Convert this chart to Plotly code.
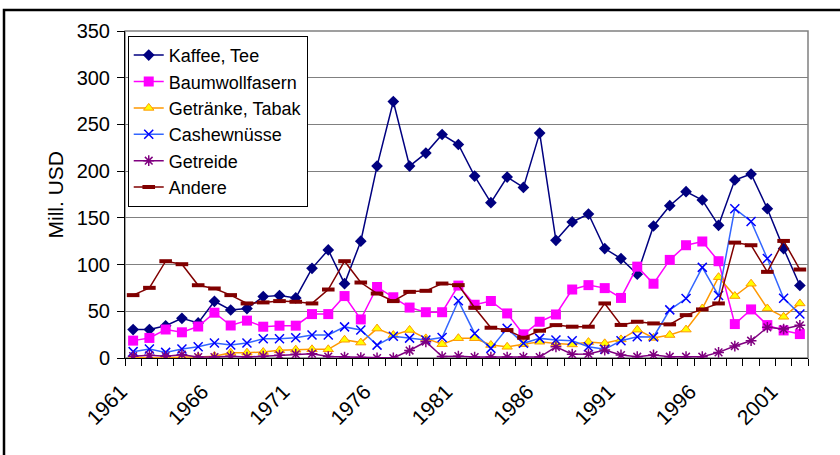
import plotly.graph_objects as go

years = list(range(1961, 2003))
label_years = [1961, 1966, 1971, 1976, 1981, 1986, 1991, 1996, 2001]

kaffee = [30.4, 30.4, 34.5, 42.5, 37.5, 60.7, 51.4, 52.9, 65.7, 66.8,
          64.3, 96, 115.7, 79.6, 125, 205.4, 274.5, 205.4, 219.3, 239.2,
          228.5, 194.7, 166.3, 193.7, 182.6, 240.7, 126, 145.6, 154.1, 117.1,
          106.4, 89.7, 141.3, 163, 178, 169.1, 142, 190.5, 196.9, 159.8,
          117.1, 77.6]
baumwolle = [18.6, 21.5, 30.5, 27.5, 33.7, 48.5, 34.8, 40, 33.5, 34.6,
             34.6, 47, 47, 66.3, 41.3, 76, 65, 54, 49, 49,
             77.5, 57, 61, 47.7, 25.3, 38.8, 46.6, 73.3, 78, 74.8,
             64.3, 97.8, 79.5, 105, 120.7, 124.7, 103.6, 36.3, 52, 35.2,
             29.5, 25.6]
getraenke = [0.5, 0, 0, 1, 1, 2, 5.7, 5.7, 6.4, 8.2,
             8.9, 9.3, 9.3, 19.5, 16.5, 31.5, 24.5, 30, 21, 14.8,
             21.2, 21.2, 13.9, 12, 14.8, 17.4, 15.5, 14.5, 17, 15.7,
             19.9, 30.3, 21.5, 24.6, 30.4, 53, 86.5, 66.3, 79.5, 53,
             44.1, 58.4]
cashew = [6.8, 9.6, 6, 9.6, 12.1, 16, 13.9, 16, 20.6, 20.6,
          21.7, 24.6, 24.6, 33.3, 30, 13.8, 23.3, 21.3, 19.2, 22,
          61.2, 26.3, 10.3, 31.7, 15.7, 21, 19.2, 18.5, 12.1, 9.3,
          18.5, 22.8, 22.5, 51.5, 63.7, 97, 66.8, 159.8, 146.2, 106.4,
          64, 47]
getreide = [2, 3, 2, 3.5, 1, 1, 2, 1, 2, 3,
            4, 4.5, 1.5, 1, 0.5, 0, 0, 8, 17.4, 1.5,
            2, 1, 1, 1, 1, 1, 12, 4, 4.3, 8.5,
            3.2, 1.4, 3.2, 1.4, 1.4, 1.4, 6, 12.8, 18.5, 32.8,
            31, 35]
andere = [67.3, 75.1, 103.6, 100.4, 77.9, 74.4, 67.3, 58.4, 59.5, 60.9,
          60.2, 58.4, 73.3, 103.6, 80.8, 69, 60.9, 70.8, 71.9, 79.7,
          78, 53.8, 32.4, 29.9, 21.7, 29.2, 35.2, 33.5, 33.5, 58.4,
          35.4, 38.8, 37, 36, 45.9, 52, 58.4, 123.5, 120.7, 92.2,
          125.3, 94.7]

names = ["Kaffee, Tee", "Baumwollfasern", "Getränke, Tabak", "Cashewnüsse", "Getreide", "Andere"]
values = [kaffee, baumwolle, getraenke, cashew, getreide, andere]

styles = [
    dict(line=dict(color="#000080", width=1.5),
         marker=dict(symbol="diamond", size=9, color="#000080", line=dict(width=0))),
    dict(line=dict(color="#FF00FF", width=1.5),
         marker=dict(symbol="square", size=10, color="#FF00FF", line=dict(width=0))),
    dict(line=dict(color="#FF9900", width=1.5),
         marker=dict(symbol="triangle-up", size=9, color="#FFFF00", line=dict(color="#FF9900", width=1))),
    dict(line=dict(color="#3366FF", width=1.5),
         marker=dict(symbol="x-thin-open", size=9, color="#0000FF", line=dict(color="#0000FF", width=1.5))),
    dict(line=dict(color="#800080", width=1.5),
         marker=dict(symbol="asterisk-open", size=9, color="#800080", line=dict(color="#800080", width=1.5))),
    dict(line=dict(color="#800000", width=1.5),
         marker=dict(symbol="line-ew-open", size=9, color="#800000", line=dict(color="#800000", width=4))),
]

fig = go.Figure()
for name, vals, st in zip(names, values, styles):
    fig.add_trace(go.Scatter(x=years, y=vals, name=name, mode="lines+markers",
                             line=st["line"], marker=st["marker"]))

font_family = "Liberation Sans, Arial, sans-serif"

# tick marks sit on the category boundaries (Excel style); a year label is
# written at the left boundary of its category, as in the original
boundaries = [y - 0.5 for y in years] + [years[-1] + 0.5]
boundary_text = [str(int(b + 0.5)) if int(b + 0.5) in label_years else "" for b in boundaries]

fig.update_layout(
    width=840, height=455, autosize=False,
    margin=dict(l=125, r=32, t=31, b=97),
    paper_bgcolor="white", plot_bgcolor="white",
    font=dict(family=font_family, size=20, color="black"),
    showlegend=True,
    legend=dict(x=0.004, y=0.985, xanchor="left", yanchor="top",
                bgcolor="white", bordercolor="black", borderwidth=1,
                font=dict(size=18), tracegroupgap=0, itemwidth=30),
    xaxis=dict(range=[1960.5, 2002.5], tickmode="array", tickvals=boundaries,
               ticktext=boundary_text, tickangle=-45,
               ticks="outside", ticklen=7, tickcolor="black", tickwidth=1,
               showgrid=False, zeroline=False,
               showline=True, linecolor="black", linewidth=1,
               tickfont=dict(size=21), ticklabelstandoff=5, ticklabelshift=-4),
    yaxis=dict(range=[0, 350], tick0=0, dtick=50, ticks="outside", ticklen=7,
               tickcolor="black", showline=True, linecolor="black", linewidth=1,
               showgrid=True, gridcolor="#808080", gridwidth=1, zeroline=False,
               ticklabelstandoff=3,
               tickfont=dict(size=20)),
    shapes=[
        dict(type="rect", xref="paper", yref="paper", x0=0, x1=1, y0=0, y1=1,
             line=dict(color="#808080", width=1.5), layer="below"),
        dict(type="rect", xref="paper", yref="paper",
             x0=(4 - 125) / 683, x1=(860 - 125) / 683,
             y0=(358 - 480) / 327, y1=(358 - 10) / 327,
             line=dict(color="black", width=2.5)),
    ],
    annotations=[
        dict(text="Mill. USD", xref="paper", yref="paper", x=(55 - 125) / 683, y=0.5,
             textangle=-90, showarrow=False, font=dict(size=21), xanchor="center", yanchor="middle"),
    ],
)

fig.write_html("out.html", config={"displayModeBar": False},
               post_script="document.body.style.margin='0px';")
